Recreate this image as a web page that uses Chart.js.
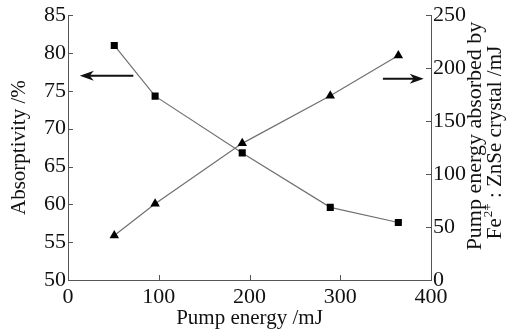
<!DOCTYPE html>
<html>
<head>
<meta charset="utf-8">
<script src="https://cdn.jsdelivr.net/npm/chart.js@4"></script>
<style>
  html, body { margin: 0; padding: 0; background: #fff; }
  #wrap { width: 519px; height: 332px; position: relative; }
</style>
</head>
<body>
<div id="wrap"><canvas id="myChart"></canvas></div>
<script>
// values
const pumpEnergy = [51, 96, 192, 289, 364];            // mJ
const absorptivity = [81.0, 74.3, 66.8, 59.6, 57.6];   // %
const absorbedEnergy = [42, 72, 129, 174, 212];        // mJ

const xRange = [0, 400, 100];
const leftRange = [50, 85, 5];
const rightRange = [0, 250, 50];

const xTitle = 'Pump energy /mJ';
const leftTitle = 'Absorptivity /%';

const FONT = "'Liberation Serif', serif";
const ink = '#111';
const axisCol = '#555';

Chart.defaults.font.family = FONT;

// inside tick marks, titles and the two arrows
const decorations = {
    id: 'decorations',
    afterDraw(chart) {
        const c = chart.ctx;
        const a = chart.chartArea;
        const x = chart.scales.x, yl = chart.scales.yl, yr = chart.scales.yr;
        c.save();
        c.strokeStyle = axisCol;
        c.lineWidth = 1;
        c.beginPath();
        for (let v = xRange[0]; v <= xRange[1]; v += xRange[2]) {
            const px = Math.round(x.getPixelForValue(v)) + 0.5;
            c.moveTo(px, a.bottom); c.lineTo(px, a.bottom - 5);
        }
        for (let v = leftRange[0]; v <= leftRange[1]; v += leftRange[2]) {
            const py = Math.round(yl.getPixelForValue(v)) + 0.5;
            c.moveTo(a.left, py); c.lineTo(a.left + 5, py);
        }
        for (let v = rightRange[0]; v <= rightRange[1]; v += rightRange[2]) {
            const py = Math.round(yr.getPixelForValue(v)) + 0.5;
            c.moveTo(a.right, py); c.lineTo(a.right - 5, py);
        }
        c.stroke();

        // titles
        c.fillStyle = ink;
        c.font = '21px ' + FONT;
        c.textAlign = 'center';
        c.textBaseline = 'middle';
        c.fillText(xTitle, (a.left + a.right) / 2, 318);

        const midY = (a.top + a.bottom) / 2;
        c.save();
        c.translate(19, midY);
        c.rotate(-Math.PI / 2);
        c.fillText(leftTitle, 0, 0);
        c.restore();

        // right title, two lines, reading upward
        c.save();
        c.translate(475, 136);
        c.rotate(-Math.PI / 2);
        c.font = '22px ' + FONT;
        c.fillText('Pump energy absorbed by', 0, 0);
        c.restore();

        c.save();
        c.translate(495, 143);
        c.rotate(-Math.PI / 2);
        const big = '21px ' + FONT, small = '13px ' + FONT;
        c.font = big; const w1 = c.measureText('Fe').width;
        c.font = small; const w2 = c.measureText('2+').width;
        c.font = big; const w3 = c.measureText(' : ZnSe crystal /mJ').width;
        let sx = -(w1 + w2 + w3) / 2;
        c.textAlign = 'left';
        c.font = big; c.fillText('Fe', sx, 0); sx += w1 + 1;
        c.font = small; c.fillText('2+', sx, -6); sx += w2;
        c.font = big; c.fillText(' : ZnSe crystal /mJ', sx, 0);
        c.restore();

        // arrows pointing at the axis each curve belongs to
        const arrow = (x0, x1, y) => {
            const dir = Math.sign(x1 - x0);
            c.strokeStyle = ink; c.fillStyle = ink; c.lineWidth = 2;
            c.beginPath(); c.moveTo(x0, y); c.lineTo(x1 - dir * 8, y); c.stroke();
            c.beginPath();
            c.moveTo(x1, y);
            c.lineTo(x1 - dir * 14, y - 5);
            c.lineTo(x1 - dir * 10, y);
            c.lineTo(x1 - dir * 14, y + 5);
            c.closePath(); c.fill();
        };
        arrow(x.getPixelForValue(72), x.getPixelForValue(13), yl.getPixelForValue(77));
        arrow(x.getPixelForValue(347), x.getPixelForValue(392), yr.getPixelForValue(190));
        c.restore();
    }
};

const absData = pumpEnergy.map((e, i) => ({ x: e, y: absorptivity[i] }));
const engData = pumpEnergy.map((e, i) => ({ x: e, y: absorbedEnergy[i] }));

const tickFont = { family: FONT, size: 22 };

const ctx = document.getElementById('myChart').getContext('2d');
const myChart = new Chart(ctx, {
    type: 'line',
    data: {
        datasets: [
            {
                label: 'Absorptivity',
                data: absData,
                yAxisID: 'yl',
                borderColor: '#707070',
                borderWidth: 1.2,
                pointStyle: 'rect',
                pointRadius: 5,
                pointBackgroundColor: '#000',
                pointBorderColor: '#000',
                pointBorderWidth: 0
            },
            {
                label: 'Absorbed energy',
                data: engData,
                yAxisID: 'yr',
                borderColor: '#707070',
                borderWidth: 1.2,
                pointStyle: 'triangle',
                pointRadius: 5.5,
                pointBackgroundColor: '#000',
                pointBorderColor: '#000',
                pointBorderWidth: 0
            }
        ]
    },
    options: {
        responsive: true,
        maintainAspectRatio: false,
        animation: false,
        layout: { padding: { top: 15, left: 0, right: 0, bottom: 0 } },
        scales: {
            x: {
                type: 'linear',
                min: xRange[0], max: xRange[1],
                grid: { display: false, drawTicks: false },
                border: { display: true, color: axisCol, width: 1 },
                ticks: { stepSize: xRange[2], color: ink, font: tickFont, padding: 4, maxRotation: 0 },
                afterFit(s) { s.height = 52; }
            },
            yl: {
                type: 'linear',
                position: 'left',
                min: leftRange[0], max: leftRange[1],
                grid: { display: false, drawTicks: false },
                border: { display: true, color: axisCol, width: 1 },
                ticks: { stepSize: leftRange[2], color: ink, font: tickFont, padding: 2 },
                afterFit(s) { s.width = 68; }
            },
            yr: {
                type: 'linear',
                position: 'right',
                min: rightRange[0], max: rightRange[1],
                grid: { display: false, drawTicks: false },
                border: { display: true, color: axisCol, width: 1 },
                ticks: { stepSize: rightRange[2], color: ink, font: tickFont, padding: 2 },
                afterFit(s) { s.width = 88; }
            }
        },
        plugins: {
            legend: { display: false },
            tooltip: { enabled: false }
        }
    },
    plugins: [decorations]
});
</script>
</body>
</html>
